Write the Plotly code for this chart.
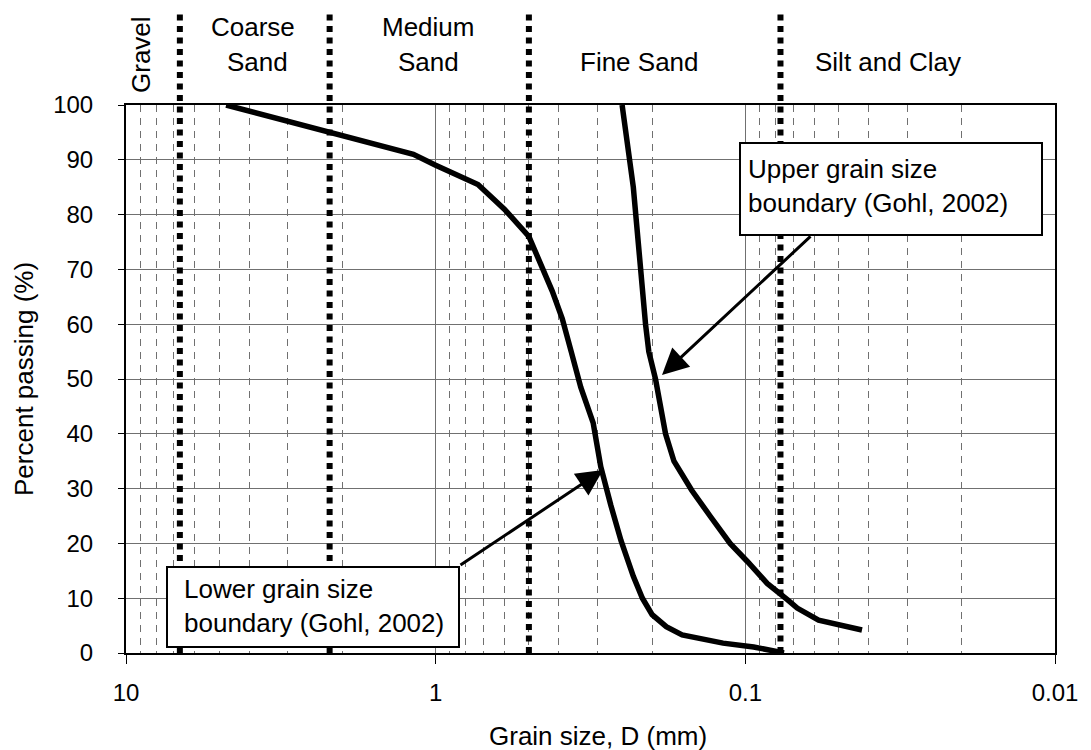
import plotly.graph_objects as go

# Grain size distribution curves (D in mm, percent passing)
lower_d = [4.75, 2.2, 1.18, 1.0, 0.73, 0.6, 0.5, 0.42, 0.39, 0.365, 0.34, 0.31,
           0.293, 0.272, 0.252, 0.23, 0.215, 0.2, 0.18, 0.16, 0.118, 0.094, 0.075]
lower_p = [100, 95, 91, 89, 85.5, 81, 76, 66, 61, 55, 48.5, 42,
           34, 27, 20.5, 14, 10, 7, 4.8, 3.3, 1.8, 1.1, 0]

upper_d = [0.25, 0.23, 0.21, 0.205, 0.195, 0.181, 0.17, 0.149, 0.13, 0.112,
           0.0985, 0.085, 0.073, 0.068, 0.058, 0.042]
upper_p = [100, 85, 60, 55, 50, 40, 35, 29.7, 25, 20,
           16.7, 12.7, 9.7, 8.2, 6, 4.2]

# Soil class boundaries (mm)
class_bounds = [6.7, 2.2, 0.5, 0.077]

x_tick_vals = [10, 1, 0.1, 0.01]
x_tick_text = ["10", "1", "0.1", "0.01"]
x_minor_vals = [m * 10.0 ** e for e in (0, -1, -2) for m in range(2, 10)]
y_tick_vals = list(range(0, 101, 10))

FONT = "Liberation Sans, Arial, sans-serif"
TXT = 26

# plot area in pixels
W, H = 1091, 750
L, R, T, B = 126, 36, 105, 97
PW, PH = W - L - R, H - T - B


def px(xp):
    return (xp - L) / PW


def py(yp):
    return (H - B - yp) / PH


fig = go.Figure()
fig.add_trace(go.Scatter(x=lower_d, y=lower_p, mode="lines",
                         line=dict(color="black", width=5.5), showlegend=False))
fig.add_trace(go.Scatter(x=upper_d, y=upper_p, mode="lines",
                         line=dict(color="black", width=5.5), showlegend=False))

shapes = []
for b in class_bounds:
    shapes.append(dict(type="line", xref="x", yref="paper", x0=b, x1=b,
                       y0=0, y1=py(12), layer="above",
                       line=dict(color="black", width=6, dash="6px,5.5px")))

# label boxes
shapes.append(dict(type="rect", xref="paper", yref="paper",
                   x0=px(740), x1=px(1042), y0=py(235), y1=py(143),
                   fillcolor="white", line=dict(color="black", width=2), layer="above"))
shapes.append(dict(type="rect", xref="paper", yref="paper",
                   x0=px(167), x1=px(459), y0=py(647), y1=py(567),
                   fillcolor="white", line=dict(color="black", width=2), layer="above"))

ann = []


def label(text, xp, yp, size=TXT, angle=0, xanchor="center"):
    ann.append(dict(text=text, xref="paper", yref="paper", x=px(xp), y=py(yp),
                    xanchor=xanchor, yanchor="middle", showarrow=False,
                    textangle=angle, font=dict(family=FONT, size=size, color="black")))


label("Gravel", 141, 55, angle=-90)
label("Coarse", 253, 27)
label("Sand", 257, 62)
label("Medium", 428, 27)
label("Sand", 428, 62)
label("Fine Sand", 639, 62)
label("Silt and Clay", 888, 62)

label("Upper grain size", 746, 169, xanchor="left")
label("boundary (Gohl, 2002)", 746, 203, xanchor="left")
label("Lower grain size", 182, 589, xanchor="left")
label("boundary (Gohl, 2002)", 182, 623, xanchor="left")

label("Percent passing (%)", 24, 379, angle=-90)
label("Grain size, D (mm)", 598, 736)

# arrows pointing at the curves
ann.append(dict(text="", xref="paper", yref="paper", x=px(662), y=py(375),
                ax=150, ay=-140, axref="pixel", ayref="pixel", showarrow=True,
                arrowhead=2, arrowsize=1.75, arrowwidth=3, arrowcolor="black"))
ann.append(dict(text="", xref="paper", yref="paper", x=px(603), y=py(470),
                ax=-144, ay=96, axref="pixel", ayref="pixel", showarrow=True,
                arrowhead=2, arrowsize=1.75, arrowwidth=3, arrowcolor="black"))

fig.update_layout(
    width=W, height=H,
    margin=dict(l=L, r=R, t=T, b=B, pad=0),
    paper_bgcolor="white", plot_bgcolor="white",
    shapes=shapes, annotations=ann,
    font=dict(family=FONT, color="black"),
    xaxis=dict(type="log", range=[1, -2], autorange=False,
               tickmode="array", tickvals=x_tick_vals, ticktext=x_tick_text,
               ticks="outside", ticklen=9, tickwidth=1, tickcolor="black",
               ticklabelstandoff=8,
               tickfont=dict(family=FONT, size=24, color="black"),
               showline=True, linecolor="black", linewidth=2, mirror=True,
               showgrid=True, gridcolor="#707070", gridwidth=1,
               minor=dict(tickmode="array", tickvals=x_minor_vals, showgrid=True,
                          gridcolor="#707070", gridwidth=1, griddash="7px,6px",
                          ticks="")),
    yaxis=dict(range=[0, 100], autorange=False, tickmode="array", tickvals=y_tick_vals,
               ticks="outside", ticklen=6, tickwidth=1, tickcolor="black",
               ticklabelstandoff=20,
               tickfont=dict(family=FONT, size=24, color="black"),
               showline=True, linecolor="black", linewidth=2, mirror=True,
               showgrid=True, gridcolor="#707070", gridwidth=1, zeroline=False),
)

fig.write_html("out.html")
